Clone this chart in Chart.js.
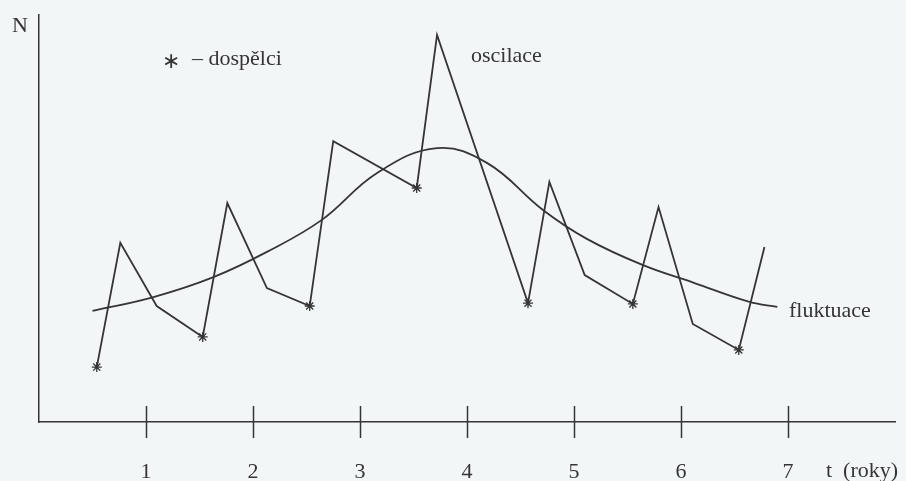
<!DOCTYPE html>
<html>
<head>
<meta charset="utf-8">
<script src="https://cdn.jsdelivr.net/npm/chart.js@4.4.1/dist/chart.umd.min.js"></script>
<style>
  body { margin: 0; background: #f2f6f7; }
  #wrap { width: 906px; height: 481px; position: relative; }
</style>
</head>
<body>
<div id="wrap"><canvas id="popChart"></canvas></div>
<script>
// oscilace - jagged population curve (t in years, N arbitrary units)
var oscT = [0.54, 0.76, 1.10, 1.53, 1.76, 2.13, 2.53, 2.75, 3.53, 3.72, 4.57, 4.77, 5.10, 5.55, 5.79, 6.11, 6.54, 6.78];
var oscN = [13.5, 44.0, 28.5, 20.9, 53.8, 32.9, 28.5, 69.0, 57.5, 95.1, 29.2, 59.0, 36.1, 29.0, 52.8, 24.1, 17.7, 43.0];
// which of those points are adults (dospelci)
var adult = [1, 0, 0, 1, 0, 0, 1, 0, 1, 0, 1, 0, 0, 1, 0, 0, 1, 0];

// fluktuace - smooth trend
var flukT = [0.50, 1.07, 1.63, 2.13, 2.64, 3.16, 3.72, 4.19, 4.71, 5.12, 5.64, 6.12, 6.64, 6.90];
var flukN = [27.3, 30.7, 35.6, 41.8, 49.6, 61.2, 67.3, 63.6, 52.1, 45.0, 38.6, 34.2, 29.5, 28.3];

var tickYears = [1, 2, 3, 4, 5, 6, 7];

var ink = '#353535';
var serif = "'Liberation Serif', 'DejaVu Serif', serif";

function toPoints(xs, ys) {
    return xs.map((x, i) => ({ x: x, y: ys[i] }));
}

// text labels drawn around the plot (pixel positions)
var notes = [
    { text: 'N', x: 12, y: 32 },
    { text: '\u2217', x: 162, y: 68, font: "22px 'DejaVu Sans'" },
    { text: '\u2013 dospělci', x: 192, y: 65 },
    { text: 'oscilace', x: 471, y: 62 },
    { text: 'fluktuace', x: 789, y: 317 },
    { text: 't  (roky)', x: 826, y: 477 }
];

const decor = {
    id: 'decor',
    beforeDraw(chart) {
        const ctx = chart.ctx;
        ctx.save();
        ctx.fillStyle = '#f2f6f7';
        ctx.fillRect(0, 0, chart.width, chart.height);
        ctx.restore();
    },
    afterDraw(chart) {
        const ctx = chart.ctx;
        const xs = chart.scales.x;
        ctx.save();
        ctx.strokeStyle = ink;
        ctx.lineWidth = 1.5;
        tickYears.forEach(v => {
            const px = Math.round(xs.getPixelForValue(v)) + 0.5;
            ctx.beginPath();
            ctx.moveTo(px, xs.top - 16);
            ctx.lineTo(px, xs.top + 16);
            ctx.stroke();
        });
        ctx.fillStyle = ink;
        ctx.textBaseline = 'alphabetic';
        ctx.textAlign = 'left';
        notes.forEach(n => {
            ctx.font = n.font || ('22px ' + serif);
            ctx.fillText(n.text, n.x, n.y);
        });
        ctx.restore();
    }
};

document.addEventListener('DOMContentLoaded', () => {
    const c = document.getElementById('popChart').getContext('2d');
    new Chart(c, {
        type: 'scatter',
        data: {
            datasets: [{
                label: 'oscilace',
                data: toPoints(oscT, oscN),
                showLine: true,
                borderColor: ink,
                borderWidth: 1.8,
                pointStyle: 'star',
                pointRadius: adult.map(a => a ? 5 : 0),
                pointBorderColor: ink,
                pointBorderWidth: 1.3,
                tension: 0
            }, {
                label: 'fluktuace',
                data: toPoints(flukT, flukN),
                showLine: true,
                borderColor: ink,
                borderWidth: 1.8,
                pointRadius: 0,
                tension: 0.4
            }]
        },
        options: {
            responsive: true,
            maintainAspectRatio: false,
            animation: false,
            layout: { padding: { left: 39, right: 11, top: 15, bottom: 0 } },
            scales: {
                x: {
                    type: 'linear',
                    min: 0,
                    max: 8,
                    afterFit: s => { s.height = 59; s.paddingLeft = 0; s.paddingRight = 0; },
                    grid: { display: false },
                    border: { display: true, color: ink, width: 1.5 },
                    ticks: {
                        stepSize: 1,
                        padding: 29,
                        maxRotation: 0,
                        color: ink,
                        font: { family: serif, size: 22 },
                        callback: v => (v >= 1 && v <= 7) ? String(v) : ''
                    }
                },
                y: {
                    min: 0,
                    max: 100,
                    afterFit: s => { s.width = 0; s.paddingTop = 0; s.paddingBottom = 0; },
                    grid: { display: false },
                    border: { display: true, color: ink, width: 1.5 },
                    ticks: { display: false }
                }
            },
            plugins: {
                legend: { display: false },
                tooltip: { enabled: false }
            }
        },
        plugins: [decor]
    });
});
</script>
</body>
</html>
